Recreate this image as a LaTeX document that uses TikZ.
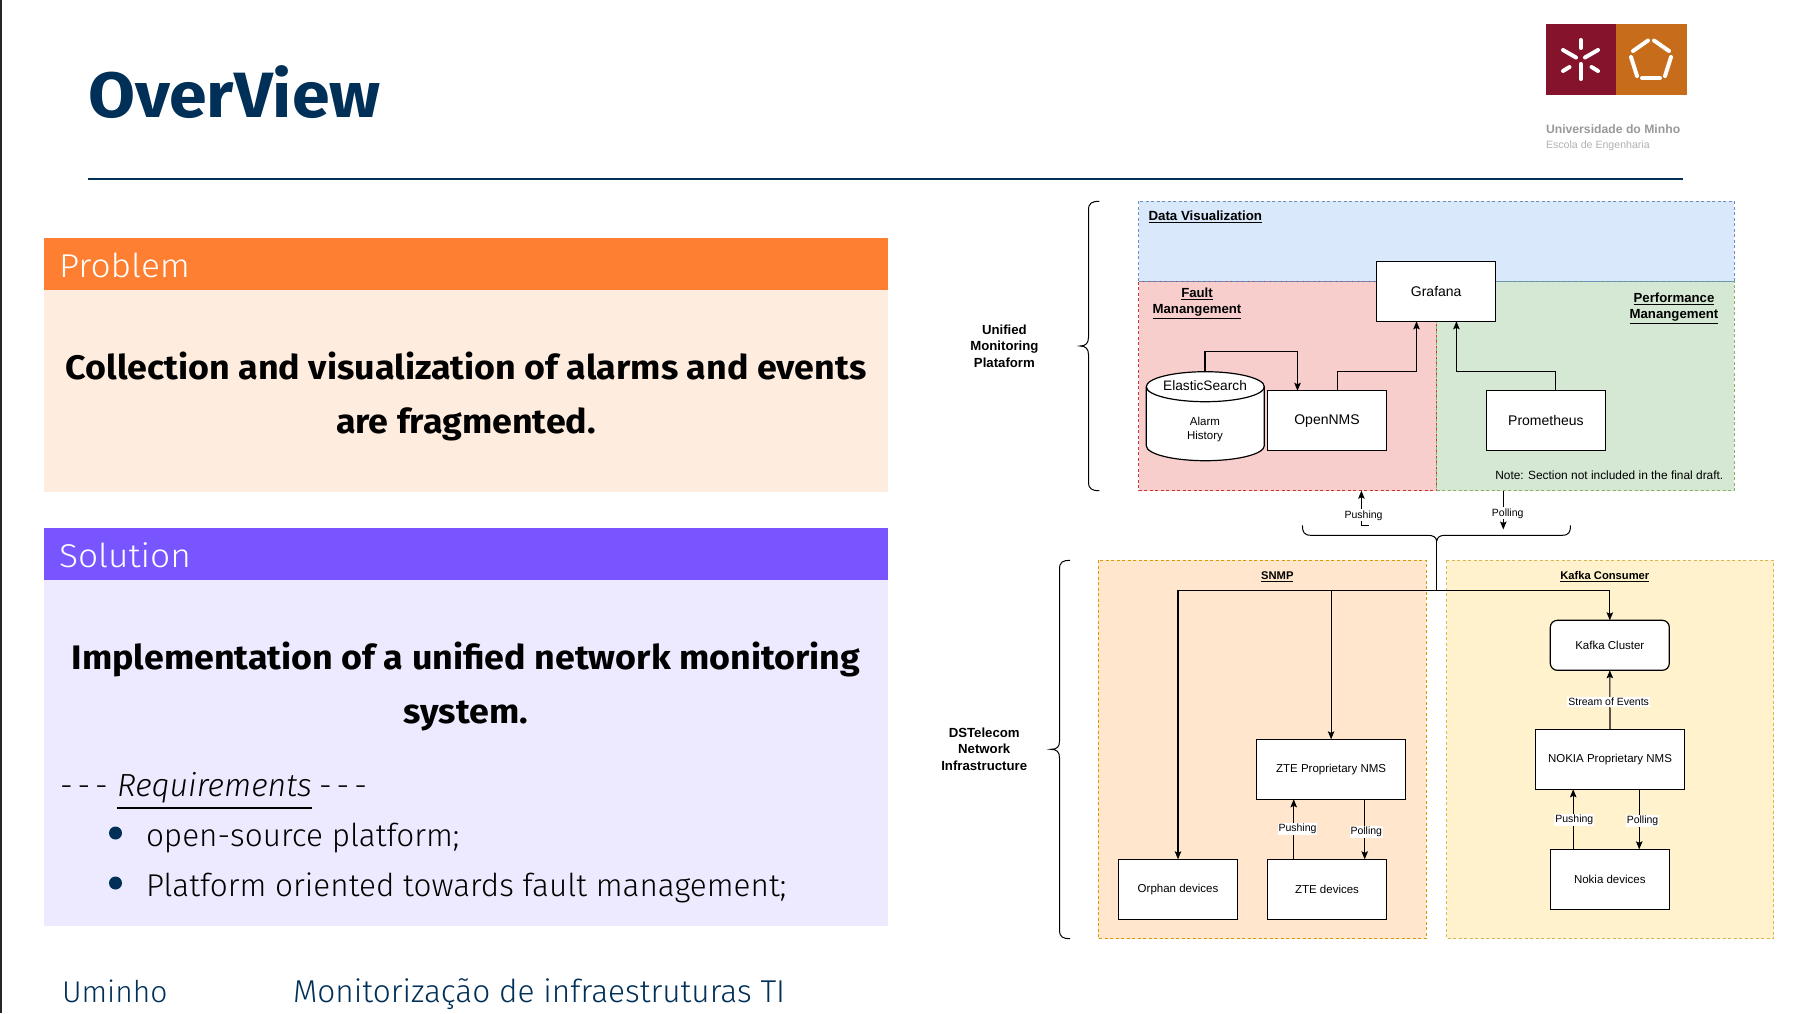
\documentclass[tikz,border=0pt]{standalone}
\usepackage{fontspec}
\setmainfont{Liberation Sans}
\newfontfamily\slidef[UprightFont=* Light,ItalicFont=* Light Italic,BoldFont=* Bold]{Fira Sans}
\newfontfamily\slideh[UprightFont=* Light,FakeStretch=1.07]{Fira Sans}
\newfontfamily\slideb[UprightFont=* Bold,FakeStretch=1.054]{Fira Sans}
\newfontfamily\slidet[UprightFont=* Bold,FakeStretch=1.063]{Fira Sans}
\usetikzlibrary{arrows.meta}
\definecolor{navy}{HTML}{003057}
\definecolor{probhead}{HTML}{FF7F32}
\definecolor{probbody}{HTML}{FEEDDF}
\definecolor{solhead}{HTML}{7855FF}
\definecolor{solbody}{HTML}{EDE9FE}
\definecolor{umred}{HTML}{84132B}
\definecolor{umorange}{HTML}{C66C1A}
\newcommand{\fsz}[1]{\fontsize{#1}{#1}\selectfont}
\newcommand{\wdash}{-\kern5pt-\kern5pt-}
\tikzset{
  every node/.style={inner sep=0pt,outer sep=0pt},
  arr/.style={draw=black,line width=1.1pt,-{Stealth[length=8pt,width=6.5pt,inset=1.5pt]}},
  plainline/.style={draw=black,line width=1.1pt},
  boxnode/.style={draw=black,fill=white,line width=1.2pt,align=center,font=\fsz{11.5},minimum width=119pt,minimum height=60pt},
  widebox/.style={boxnode,minimum width=149pt},
  sectitle/.style={align=center,font=\bfseries\fsz{13.2},text depth=0pt},
  smalltitle/.style={align=center,font=\bfseries\fsz{11.2}},
  linklabel/.style={fill=white,inner sep=1pt,font=\fsz{10.5}},
  region/.style={line width=0.9pt,dash pattern=on 3pt off 2.5pt},
  slidehead/.style={anchor=base west,text=white,font=\slideh\fsz{33}},
  slidebold/.style={anchor=base,font=\slideb\fsz{34}},
  slidetext/.style={anchor=base west,font=\slidef\fsz{31.5}},
  foot/.style={anchor=base west,text=navy,font=\slidef\fsz{31.6}},
  logoray/.style={draw=white,line width=4pt,line cap=round},
  brace/.style={draw=black,line width=1pt}
}
\begin{document}
\begin{tikzpicture}[x=1pt,y=-1pt]
\useasboundingbox (0,0) rectangle (1796,1013);
\fill[white] (0,0) rectangle (1796,1013);
% slide frame
\fill[black!85] (0,0) rectangle (1.8,1013);
\node[anchor=base west,text=navy,font=\slidet\fsz{64}] (title) at (88,117) {OverView};
\coordinate (ruleL) at (88,179);
\coordinate (ruleR) at (1683,179);
\draw[navy,line width=2pt] (ruleL) -- (ruleR);
% logo
\fill[umred] (1546,24) rectangle (1616,95);
\fill[umorange] (1616,24) rectangle (1687,95);
\draw[logoray] (1580.7,40) -- (1580.7,48);
\draw[logoray] (1580.7,64) -- (1580.7,79);
\draw[logoray] (1563,50) -- (1576,57.5);
\draw[logoray] (1598,50) -- (1585,57.5);
\draw[logoray] (1563,71) -- (1569.5,67);
\draw[logoray] (1598,71) -- (1591.5,67);
\draw[logoray] (1633,51) -- (1648,40.5);
\draw[logoray] (1654,40.5) -- (1669,51);
\draw[logoray] (1671,57) -- (1665,76);
\draw[logoray] (1642,78) -- (1660,78);
\draw[logoray] (1631,57) -- (1637,76);
\node[anchor=base west,text=black!40,font=\bfseries\fsz{12.2}] (univ) at (1546,133) {Universidade do Minho};
\node[anchor=base west,text=black!30,font=\fsz{10.6}] (escola) at (1546,148) {Escola de Engenharia};
% problem panel
\fill[probbody] (44,290) rectangle (888,492);
\fill[probhead] (44,238) rectangle (888,290);
\node[slidehead] (probt) at (59,277.5) {Problem};
\node[slidebold] (prob1) at (466,379) {Collection and visualization of alarms and events};
\node[slidebold] (prob2) at (466,433) {are fragmented.};
% solution panel
\fill[solbody] (44,580) rectangle (888,926);
\fill[solhead] (44,528) rectangle (888,580);
\node[slidehead] (solt) at (59,567.5) {Solution};
\node[slidebold] (sol1) at (466,669) {Implementation of a unified network monitoring};
\node[slidebold] (sol2) at (466,723) {system.};
\node[slidetext] (dash1) at (60,796) {\wdash};
\node[slidetext,font=\slidef\itshape\fsz{32}] (req) at (117,796) {Requirements};
\node[slidetext] (dash2) at (319,796) {\wdash};
\draw[black,line width=2pt] (117,807.7) -- (312,807.7);
\fill[navy] (115.5,833) circle (6.5pt);
\fill[navy] (115.5,883) circle (6.5pt);
\node[slidetext] (item1) at (146,846) {open-source platform;};
\node[slidetext] (item2) at (146,896.5) {Platform oriented towards fault management;};
\node[foot,font=\slidef\fsz{30}] (foot1) at (62,1002.5) {Uminho};
\node[foot] (foot2) at (293,1002.5) {Monitorização de infraestruturas TI};
% regions
\filldraw[region,fill={rgb,255:red,218;green,232;blue,252},draw={rgb,255:red,108;green,142;blue,191}] (1138.7,201.3) rectangle (1734.2,281.7);
\filldraw[region,fill={rgb,255:red,248;green,206;blue,204},draw={rgb,255:red,204;green,51;blue,51}] (1138.7,281.7) rectangle (1436.7,490.7);
\filldraw[region,fill={rgb,255:red,213;green,232;blue,212},draw={rgb,255:red,130;green,179;blue,102}] (1436.7,281.7) rectangle (1734.2,490.7);
\draw[region,draw={rgb,255:red,108;green,142;blue,191}] (1138.7,281.7) -- (1734.2,281.7);
\filldraw[region,fill={rgb,255:red,255;green,230;blue,204},draw={rgb,255:red,215;green,155;blue,0}] (1098.3,560.3) rectangle (1426.4,938.7);
\filldraw[region,fill={rgb,255:red,255;green,242;blue,204},draw={rgb,255:red,214;green,182;blue,86}] (1446.6,560.3) rectangle (1773.5,938.7);
% region titles
\node[sectitle,anchor=west,font=\bfseries\fsz{13.3}] (dv) at (1148.5,216) {\underline{Data Visualization}};
\node[sectitle] (fm) at (1197,301) {\underline{Fault}\\[3pt]\underline{Manangement}};
\node[sectitle] (pm) at (1674,306) {\underline{Performance}\\[3pt]\underline{Manangement}};
\node[anchor=east,font=\fsz{11.9}] (note) at (1723.3,475) {Note: Section not included in the final draft.};
\node[smalltitle] (snmp) at (1277.3,576.7) {\underline{SNMP}};
\node[smalltitle] (kc) at (1604.8,576.7) {\underline{Kafka Consumer}};
% side labels
\node[sectitle] (uni) at (1004.4,346) {Unified\\[3.5pt]Monitoring\\[3.5pt]Plataform};
\node[sectitle] (dst) at (984.2,749) {DSTelecom\\[3.5pt]Network\\[3.5pt]Infrastructure};
% braces
\draw[brace] (1099.4,201.3) .. controls (1092,201.3) and (1088.5,203) .. (1088.5,210) -- (1088.5,337) .. controls (1088.5,343) and (1086,346) .. (1080,346) .. controls (1086,346) and (1088.5,349) .. (1088.5,355) -- (1088.5,482) .. controls (1088.5,489) and (1092,490.7) .. (1099.4,490.7);
\draw[brace] (1070,560.3) .. controls (1063,560.3) and (1059.5,562) .. (1059.5,569) -- (1059.5,741) .. controls (1059.5,747) and (1057,749.3) .. (1050.8,749.3) .. controls (1057,749.3) and (1059.5,752) .. (1059.5,758) -- (1059.5,930) .. controls (1059.5,937) and (1063,938.7) .. (1070,938.7);
\coordinate (btip) at (1436.7,541);
\draw[brace] (1302.4,525.3) .. controls (1302.4,532) and (1304,535.3) .. (1311,535.3) -- (1428,535.3) .. controls (1433,535.3) and (1436,537) .. (btip) .. controls (1437.4,537) and (1440,535.3) .. (1445,535.3) -- (1562,535.3) .. controls (1569,535.3) and (1570.5,532) .. (1570.5,525.3);
% boxes
\node[boxnode,font=\fsz{14}] (grafana) at (1436.2,291.3) {Grafana};
\node[boxnode,font=\fsz{14}] (opennms) at (1327,420.8) {\raisebox{-1pt}{OpenNMS}};
\node[boxnode,font=\fsz{14}] (prom) at (1545.9,420.8) {Prometheus};
\node[widebox] (zte) at (1331.1,769.3) {\raisebox{-1pt}{ZTE Proprietary NMS}};
\node[widebox] (nokia) at (1610,759.3) {\raisebox{-1pt}{NOKIA Proprietary NMS}};
\node[boxnode] (orphan) at (1178,889.3) {\raisebox{-1pt}{Orphan devices}};
\node[boxnode] (ztedev) at (1327,889.3) {ZTE devices};
\node[boxnode] (nokdev) at (1609.8,879.3) {Nokia devices};
\node[boxnode,rounded corners=7pt,minimum height=50pt] (kafka) at (1609.8,645.3) {Kafka Cluster};
% cylinder
\coordinate (estop) at (1205,371.7);
\filldraw[draw=black,fill=white,line width=1.2pt] (1146.3,386.7) -- (1146.3,445.7) arc[start angle=180,end angle=0,x radius=59,y radius=15] -- (1264.3,386.7) arc[start angle=0,end angle=-180,x radius=59,y radius=15] -- cycle;
\draw[black,line width=1.2pt] (1146.3,386.7) arc[start angle=180,end angle=0,x radius=59,y radius=15];
\node[font=\fsz{13.7}] (es) at (1205,386) {ElasticSearch};
\node[align=center,font=\fsz{11.5}] (hist) at (1205,429.7) {Alarm\\[3pt]History};
% connectors
\draw[arr] (estop) -- (1205,351.7) -| (opennms.north -| 1297.5,0);
\draw[arr] (opennms.north -| 1337.4,0) |- (1416.5,371.7) -- (grafana.south -| 1416.5,0);
\draw[arr] (prom.north -| 1555.7,0) |- (1456.4,371.7) -- (grafana.south -| 1456.4,0);
\coordinate (pushT) at (1361.4,490.7);
\coordinate (pushB) at (1361.4,525);
\coordinate (pollT) at (1503.3,490.7);
\coordinate (pollB) at (1503.3,529.5);
\draw[plainline,line width=1pt] (1368.5,525) -- (pushB);
\draw[arr] (pushB) -- (pushT);
\draw[arr] (pollT) -- (pollB);
\node[linklabel] (lpush) at (1363.6,515.3) {Pushing};
\node[linklabel] (lpoll) at (1507.7,513.3) {Polling};
\coordinate (junc) at (1436.7,590.7);
\draw[plainline,line width=1pt] (btip) -- (junc);
\draw[arr] (junc) -| (orphan.north);
\draw[arr] (junc) -| (kafka.north);
\draw[arr] (1331.1,590.7) -- (zte.north);
\draw[arr] (nokia.north) -- (kafka.south);
\node[linklabel] (lstream) at (1608.7,702) {Stream of Events};
\draw[arr] (ztedev.north -| 1293.7,0) -- (zte.south -| 1293.7,0);
\draw[arr] (zte.south -| 1364.7,0) -- (ztedev.north -| 1364.7,0);
\node[linklabel] (lp1) at (1297.5,829) {Pushing};
\node[linklabel] (lp2) at (1366.3,832) {Polling};
\draw[arr] (nokdev.north -| 1573.2,0) -- (nokia.south -| 1573.2,0);
\draw[arr] (nokia.south -| 1639.2,0) -- (nokdev.north -| 1639.2,0);
\node[linklabel] (lp3) at (1574.3,820) {Pushing};
\node[linklabel] (lp4) at (1642.5,821) {Polling};
\end{tikzpicture}
\end{document}
